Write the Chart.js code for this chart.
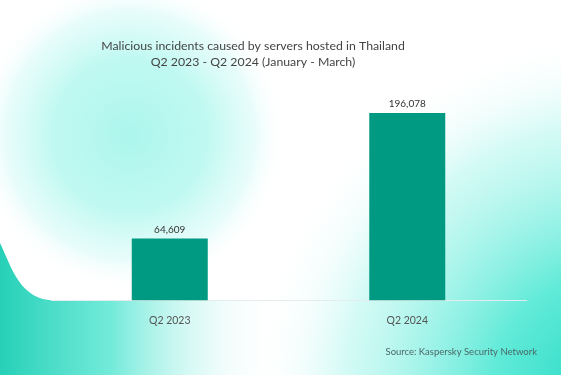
<!DOCTYPE html>
<html>
<head>
<meta charset="utf-8">
<script src="https://cdn.jsdelivr.net/npm/chart.js@4"></script>
<style>
  html, body { margin: 0; padding: 0; background: #fff; }
  #wrap { width: 561px; height: 375px; position: relative; }
</style>
</head>
<body>
<div id="wrap"><canvas id="incidents_chart" width="561" height="375"></canvas></div>
<script>
const quarters = ["Q2 2023", "Q2 2024"];
const incidents = [64609, 196078];
const title_lines = ["Malicious incidents caused by servers hosted in Thailand", "Q2 2023 - Q2 2024 (January - March)"];
const source_text = "Source: Kaspersky Security Network";

const font_family = "Lato, 'Noto Sans', sans-serif";

// soft teal background shapes
const backdrop = {
    id: 'backdrop',
    beforeDraw(chart) {
        const ctx = chart.ctx;
        const w = chart.width, h = chart.height;
        ctx.save();
        ctx.fillStyle = '#ffffff';
        ctx.fillRect(0, 0, w, h);

        // glow top left
        let g = ctx.createRadialGradient(130, 135, 0, 130, 135, 155);
        g.addColorStop(0, 'rgba(172,246,237,1)');
        g.addColorStop(0.5, 'rgba(185,248,240,0.9)');
        g.addColorStop(0.8, 'rgba(215,251,247,0.6)');
        g.addColorStop(1, 'rgba(255,255,255,0)');
        ctx.fillStyle = g;
        ctx.fillRect(0, 0, w, h);

        // glow right side
        g = ctx.createRadialGradient(620, 400, 0, 620, 400, 370);
        g.addColorStop(0, 'rgba(25,215,192,1)');
        g.addColorStop(0.35, 'rgba(80,232,212,0.9)');
        g.addColorStop(0.75, 'rgba(170,246,236,0.5)');
        g.addColorStop(1, 'rgba(255,255,255,0)');
        ctx.fillStyle = g;
        ctx.fillRect(0, 0, w, h);

        // wave bottom left
        const base = chart.chartArea.bottom;
        g = ctx.createLinearGradient(0, 0, 280, 0);
        g.addColorStop(0, 'rgba(38,208,183,1)');
        g.addColorStop(0.4, 'rgba(100,232,214,0.9)');
        g.addColorStop(1, 'rgba(255,255,255,0)');
        ctx.fillStyle = g;
        ctx.beginPath();
        ctx.moveTo(0, 243);
        ctx.bezierCurveTo(12, 268, 20, base, 55, base);
        ctx.lineTo(w, base);
        ctx.lineTo(w, h);
        ctx.lineTo(0, h);
        ctx.closePath();
        ctx.fill();
        ctx.restore();
    }
};

// title, value labels above bars, source line
const labels_plugin = {
    id: 'labels_plugin',
    afterDatasetsDraw(chart) {
        const ctx = chart.ctx;
        ctx.save();
        ctx.font = "12.3px " + font_family;
        ctx.fillStyle = '#444';
        ctx.textAlign = 'center';
        ctx.textBaseline = 'middle';
        title_lines.forEach((line, i) => ctx.fillText(line, 253, 46 + i * 16));

        ctx.font = "10px " + font_family;
        ctx.fillStyle = '#333';
        ctx.textBaseline = 'bottom';
        chart.getDatasetMeta(0).data.forEach((bar, i) => {
            ctx.fillText(incidents[i].toLocaleString('en-US'), bar.x, bar.y - 4);
        });

        ctx.font = "9.5px " + font_family;
        ctx.fillStyle = '#4a6868';
        ctx.textAlign = 'right';
        ctx.textBaseline = 'middle';
        ctx.fillText(source_text, 537, 352);
        ctx.restore();
    }
};

const incidents_chart = new Chart(document.getElementById('incidents_chart'), {
    type: 'bar',
    data: {
        labels: quarters,
        datasets: [{
            data: incidents,
            backgroundColor: '#009a82',
            barPercentage: 0.32,
            categoryPercentage: 1
        }]
    },
    options: {
        responsive: false,
        animation: false,
        layout: { padding: { top: 90, left: 51, right: 35, bottom: 42 } },
        plugins: {
            legend: { display: false },
            tooltip: { enabled: false },
            title: { display: false }
        },
        scales: {
            x: {
                grid: { display: false },
                border: { color: '#e4ecee' },
                ticks: { color: '#555', font: { family: font_family, size: 10.5 }, padding: 6 }
            },
            y: {
                display: false,
                min: 0,
                max: 220000
            }
        }
    },
    plugins: [backdrop, labels_plugin]
});
</script>
</body>
</html>
